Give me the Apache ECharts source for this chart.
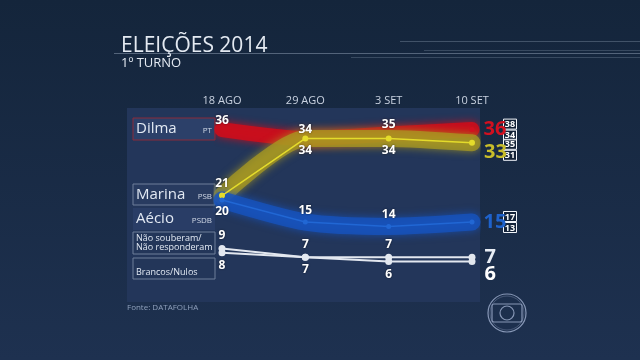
<!DOCTYPE html>
<html><head><meta charset="utf-8">
<script src="https://cdn.jsdelivr.net/npm/echarts@6/dist/echarts.min.js"></script>
<style>html,body{margin:0;padding:0;background:#18293f;}#c{width:640px;height:360px;}</style>
</head><body><div id="c"></div>
<script>
const categories = ['18 AGO', '29 AGO', '3 SET', '10 SET'];
const dilma = [36, 34, 35, 36];
const marina = [21, 34, 34, 33];
const aecio = [20, 15, 14, 15];
const naoSouberam = [9, 7, 7, 7];
const brancos = [8, 7, 6, 6];
const dilmaMargin = ['38', '34'];
const marinaMargin = ['35', '31'];
const aecioMargin = ['17', '13'];
const legendNames = ['Dilma', 'Marina', 'Aécio', 'Não souberam/\nNão responderam', 'Brancos/Nulos'];
const legendParties = ['PT', 'PSB', 'PSDB', '', ''];

const FONT = '"Open Sans", "DejaVu Sans", sans-serif';
const chart = echarts.init(document.getElementById('c'), null, {renderer: 'canvas'});

function build(vals, pos, endColor, endOffY, endSize) {
  return vals.map((v, i) => {
    if (i === vals.length - 1) {
      return {value: v, label: {show: true, position: 'right', distance: 9, offset: [0, endOffY],
        color: endColor, fontSize: endSize, fontWeight: 'bold', fontFamily: FONT,
        textShadowBlur: 0}};
    }
    return {value: v, label: {show: true, position: pos[i], distance: 3}};
  });
}
const baseLabel = {show: true, color: '#ffffff', fontSize: 12, fontWeight: 'bold', fontFamily: FONT,
  textShadowColor: 'rgba(0,0,0,0.6)', textShadowBlur: 2};

function band(data, color, width, opacity) {
  return {type: 'line', data: data, smooth: 0.25, symbol: 'none', silent: true,
    lineStyle: {color: color, width: width, opacity: opacity, cap: 'round', shadowColor: color, shadowBlur: 8},
    z: 2};
}
function thin(data, color, width, size, z, lineOpacity) {
  return {type: 'line', data: data, symbol: 'circle', symbolSize: size,
    itemStyle: {color: color}, lineStyle: {color: color, width: width, opacity: lineOpacity === undefined ? 1 : lineOpacity},
    label: baseLabel, z: z || 3};
}

// static decorations / legend boxes
const staticEls = [
  {type: 'rect', z: -10, silent: true, shape: {x: 127, y: 108, width: 353, height: 194}, style: {fill: '#23365a'}},
  {type: 'text', style: {text: 'ELEIÇÕES 2014', x: 121, y: 46, fill: '#e4eaf2', font: '21px ' + FONT, verticalAlign: 'middle'}},
  {type: 'text', style: {text: '1º TURNO', x: 121, y: 63, fill: '#e4eaf2', font: '13px ' + FONT, verticalAlign: 'middle'}},
  {type: 'line', shape: {x1: 114, y1: 53.5, x2: 640, y2: 53.5}, style: {stroke: 'rgba(200,215,235,0.35)', lineWidth: 1}},
  {type: 'line', shape: {x1: 400, y1: 41.5, x2: 640, y2: 41.5}, style: {stroke: 'rgba(200,215,235,0.25)', lineWidth: 1}},
  {type: 'line', shape: {x1: 424, y1: 50.5, x2: 640, y2: 50.5}, style: {stroke: 'rgba(200,215,235,0.2)', lineWidth: 1}},
  {type: 'line', shape: {x1: 351, y1: 57.5, x2: 640, y2: 57.5}, style: {stroke: 'rgba(200,215,235,0.2)', lineWidth: 1}},
  {type: 'text', style: {text: 'Fonte: DATAFOLHA', x: 127, y: 308, fill: '#8fa0bc', font: '8px ' + FONT, verticalAlign: 'middle'}},
  // Globo logo
  {type: 'circle', shape: {cx: 507, cy: 313, r: 19}, style: {fill: 'none', stroke: '#8797b6', lineWidth: 1.2}},
  {type: 'circle', shape: {cx: 507, cy: 313, r: 17}, style: {fill: 'none', stroke: 'rgba(135,151,182,0.5)', lineWidth: 0.8}},
  {type: 'rect', shape: {x: 492, y: 304, width: 30, height: 18, r: 2}, style: {fill: 'none', stroke: '#8797b6', lineWidth: 1.2}},
  {type: 'circle', shape: {cx: 507, cy: 313, r: 7}, style: {fill: 'none', stroke: '#8797b6', lineWidth: 1.2}}
];
const boxes = [
  {y: 118, h: 22, stroke: '#8a2a3a', fill: '#2c4069'},
  {y: 184, h: 21, stroke: '#6e7e9a', fill: '#283b60'},
  {y: 208, h: 22, stroke: null, fill: '#293d66'},
  {y: 232, h: 22, stroke: '#6e7e9a', fill: '#233659'},
  {y: 258, h: 21, stroke: '#6e7e9a', fill: '#233659'}
];
boxes.forEach((b, i) => {
  staticEls.push({type: 'rect', z: -5, shape: {x: 133, y: b.y, width: 82, height: b.h},
    style: {fill: b.fill, stroke: b.stroke || 'none', lineWidth: 1}});
  const small = i >= 3;
  staticEls.push({type: 'text', style: {text: legendNames[i], x: 136, y: i === 4 ? b.y + 14 : b.y + b.h / 2,
    fill: '#e2e9f3', font: (small ? '9px ' : '15px ') + FONT, verticalAlign: 'middle', lineHeight: small ? 9 : 15}});
  if (legendParties[i]) {
    staticEls.push({type: 'text', style: {text: legendParties[i], x: 212, y: b.y + b.h / 2 + 2,
      fill: '#d0d8e6', font: '8px ' + FONT, align: 'right', verticalAlign: 'middle'}});
  }
});

const dilmaThin = thin(build(dilma, ['top', 'top', 'top'], '#d3101f', 0, 20), '#d3101f', 1, 5, 3, 0);
dilmaThin.symbolSize = function (v, params) { return params.dataIndex === dilma.length - 1 ? 5 : 0; };

const option = {
  backgroundColor: new echarts.graphic.LinearGradient(0, 0, 0, 1, [
    {offset: 0, color: '#14253b'}, {offset: 1, color: '#1e3150'}]),
  animation: false,
  grid: {left: 222, right: 168, top: 112, bottom: 72},
  xAxis: {type: 'category', data: categories, boundaryGap: false, position: 'top',
    axisLine: {show: false}, axisTick: {show: false}, splitLine: {show: false},
    axisLabel: {color: '#c9d2e0', fontSize: 11, fontFamily: FONT, margin: 6}},
  yAxis: {type: 'value', min: 0, max: 40, show: false},
  graphic: {elements: staticEls},
  series: [
    band(dilma, '#cc0d1c', 15, 0.9),
    band(marina, '#a89a22', 17, 0.75),
    band(aecio, '#1753bd', 17, 0.8),
    dilmaThin,
    thin(build(marina, ['top', 'bottom', 'bottom'], '#c8bd2a', 9, 20), '#e4db2b', 1.5, 6),
    thin(build(aecio, ['bottom', 'top', 'top'], '#1e62cc', 0, 20), '#2167d4', 1.5, 5),
    thin(build(naoSouberam, ['top', 'top', 'top'], '#e8edf4', 0, 20), '#e3e8f0', 2, 7, 4),
    thin(build(brancos, ['bottom', 'bottom', 'bottom'], '#ffffff', 13, 20), '#e3e8f0', 2, 7, 4)
  ]
};
chart.setOption(option);

// margin boxes placed from the scale
const marginEls = [];
function addMargins(vals, margins, labelOffY) {
  const last = vals.length - 1;
  const p = chart.convertToPixel({xAxisIndex: 0, yAxisIndex: 0}, [last, vals[last]]);
  const cx = p[0] + 38, cy = p[1] + labelOffY;
  [[margins[0], cy - 5.5], [margins[1], cy + 5.5]].forEach(([t, y]) => {
    marginEls.push({type: 'rect', shape: {x: cx - 6.5, y: y - 5, width: 13, height: 10},
      style: {fill: 'rgba(10,20,35,0.4)', stroke: '#f2f5fa', lineWidth: 1}});
    marginEls.push({type: 'text', style: {text: t, x: cx, y: y + 0.5, fill: '#ffffff',
      font: 'bold 9px ' + FONT, align: 'center', verticalAlign: 'middle'}});
  });
}
addMargins(dilma, dilmaMargin, 0);
addMargins(marina, marinaMargin, 7);
addMargins(aecio, aecioMargin, 0);
chart.setOption({graphic: {elements: staticEls.concat(marginEls)}});
</script></body></html>
